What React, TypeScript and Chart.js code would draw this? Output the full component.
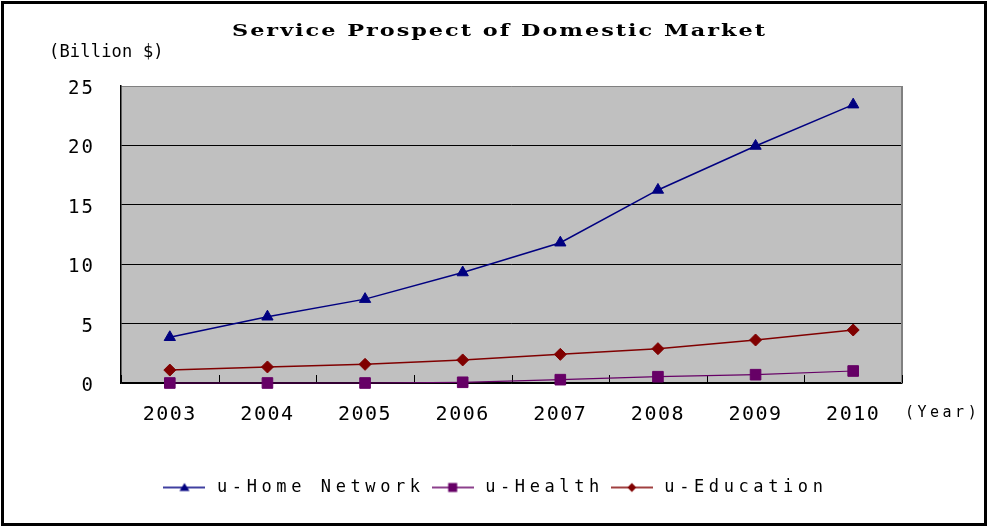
import React, { useEffect, useRef } from 'react';
import { Chart, registerables } from 'chart.js';

Chart.register(...registerables);

// ---- data ----
const years = ['2003', '2004', '2005', '2006', '2007', '2008', '2009', '2010'];
const homeNetwork = [3.85, 5.58, 7.06, 9.3, 11.81, 16.25, 19.95, 23.43];
const health = [0, 0, 0, 0.06, 0.28, 0.53, 0.7, 1.01];
const education = [1.09, 1.35, 1.57, 1.94, 2.41, 2.89, 3.62, 4.46];
const seriesNames = ['u-Home Network', 'u-Health', 'u-Education'];
const yMin = 0;
const yMax = 25;
const yStep = 5;
const chartTitle = 'Service Prospect of Domestic Market';
const yUnitLabel = '(Billion $)';
const xUnitLabel = '(Year)';

// ---- styles ----
const MONO = '"DejaVu Sans Mono", monospace';
const SERIF = '"DejaVu Serif", serif';
const colors = ['#000080', '#660066', '#800000'];
const markers = ['triangle', 'rect', 'rectRot'];

function makeIcon(color: string, marker: string) {
  const c = document.createElement('canvas');
  c.width = 42;
  c.height = 14;
  const g = c.getContext('2d') as CanvasRenderingContext2D;
  g.strokeStyle = color;
  g.lineWidth = 1.5;
  g.beginPath();
  g.moveTo(0, 7);
  g.lineTo(42, 7);
  g.stroke();
  g.fillStyle = color;
  g.beginPath();
  if (marker === 'triangle') {
    g.moveTo(21, 2.5);
    g.lineTo(26, 10.5);
    g.lineTo(16, 10.5);
  } else if (marker === 'rect') {
    g.rect(16.5, 2.5, 9, 9);
  } else {
    g.moveTo(21, 2.5);
    g.lineTo(25.5, 7);
    g.lineTo(21, 11.5);
    g.lineTo(16.5, 7);
  }
  g.closePath();
  g.fill();
  return c;
}

function wrapSpacing(obj: any, method: string, spacing: string) {
  if (!obj || obj['__ls_' + method]) return;
  const orig = obj[method];
  obj[method] = function (...args: any[]) {
    const ctx = obj.ctx as any;
    const prev = ctx.letterSpacing;
    ctx.letterSpacing = spacing;
    try {
      return orig.apply(obj, args);
    } finally {
      ctx.letterSpacing = prev;
    }
  };
  obj['__ls_' + method] = true;
}

const spacingPlugin = {
  id: 'spacingPlugin',
  beforeLayout(chart: any) {
    wrapSpacing(chart.legend, 'fit', '4.6px');
    wrapSpacing(chart.legend, 'draw', '4.6px');
    wrapSpacing(chart.scales.x, 'update', '1.5px');
    wrapSpacing(chart.scales.x, 'drawLabels', '1.5px');
    wrapSpacing(chart.scales.y, 'update', '2px');
    wrapSpacing(chart.scales.y, 'drawLabels', '2px');
  },
};

const decorPlugin = {
  id: 'decorPlugin',
  beforeDraw(chart: any) {
    const { ctx, chartArea: a, width, height } = chart;
    ctx.save();
    ctx.fillStyle = '#ffffff';
    ctx.fillRect(0, 0, width, height);
    ctx.fillStyle = '#C0C0C0';
    ctx.fillRect(a.left, a.top, a.right - a.left, a.bottom - a.top);
    ctx.restore();
  },
  beforeDatasetsDraw(chart: any) {
    const { ctx, chartArea: a } = chart;
    const xs = chart.scales.x;
    ctx.save();
    ctx.strokeStyle = '#808080';
    ctx.lineWidth = 2;
    ctx.beginPath();
    ctx.moveTo(a.right, a.top);
    ctx.lineTo(a.right, a.bottom);
    ctx.stroke();
    ctx.strokeStyle = '#000';
    ctx.lineWidth = 1;
    for (let i = 0; i <= years.length; i++) {
      const px = Math.round(xs.getPixelForValue(i - 0.5)) + 0.5;
      ctx.beginPath();
      ctx.moveTo(px, a.bottom);
      ctx.lineTo(px, a.bottom - 8);
      ctx.stroke();
    }
    ctx.restore();
  },
  afterDraw(chart: any) {
    const { ctx, width, height } = chart;
    ctx.save();
    // outer frame
    ctx.strokeStyle = '#000';
    ctx.lineWidth = 3;
    ctx.strokeRect(2.5, 2.5, width - 5, height - 5);
    // title (horizontally stretched serif, like the original)
    ctx.fillStyle = '#000';
    ctx.textAlign = 'left';
    ctx.textBaseline = 'alphabetic';
    ctx.font = `bold 17px ${SERIF}`;
    ctx.letterSpacing = '1.5px';
    const w0 = ctx.measureText(chartTitle).width;
    const sx = 535 / w0;
    ctx.save();
    ctx.translate(232, 36);
    ctx.scale(sx, 1);
    ctx.fillText(chartTitle, 0, 0);
    ctx.restore();
    // unit labels
    ctx.font = `17px ${MONO}`;
    ctx.letterSpacing = '0.2px';
    ctx.fillText(yUnitLabel, 49, 57);
    ctx.font = `15px ${MONO}`;
    ctx.letterSpacing = '3.5px';
    ctx.fillText(xUnitLabel, 905, 417);
    ctx.restore();
  },
};

export default function App() {
  const ref = useRef<HTMLCanvasElement>(null);

  useEffect(() => {
    document.body.style.margin = '0';
    const canvas = ref.current as HTMLCanvasElement;
    const icons = colors.map((c, i) => makeIcon(c, markers[i]));
    const seriesData = [homeNetwork, health, education];
    const radii = [6.5, 7.5, 6];
    const lineWidths = [1.5, 1.2, 1.5];

    const chart = new Chart(canvas, {
      type: 'line',
      data: {
        labels: years,
        datasets: seriesNames.map((name, i) => ({
          label: name,
          data: seriesData[i],
          borderColor: colors[i],
          backgroundColor: colors[i],
          borderWidth: lineWidths[i],
          pointStyle: markers[i] as any,
          pointRadius: radii[i],
          pointBorderWidth: 1,
          pointBackgroundColor: colors[i],
          pointBorderColor: colors[i],
          tension: 0,
          fill: false,
          clip: false as any,
        })),
      },
      options: {
        animation: false,
        responsive: false,
        devicePixelRatio: 1,
        layout: { padding: { top: 86, left: 0, right: 0, bottom: 21 } },
        plugins: {
          title: { display: false },
          tooltip: { enabled: false },
          legend: {
            position: 'bottom',
            align: 'center',
            labels: {
              usePointStyle: true,
              pointStyleWidth: 48,
              padding: 4,
              color: '#000',
              font: { family: MONO, size: 17 },
              generateLabels: (ch: any) =>
                ch.data.datasets.map((ds: any, i: number) => ({
                  text: ds.label,
                  fillStyle: colors[i],
                  strokeStyle: colors[i],
                  lineWidth: 0,
                  pointStyle: icons[i],
                  hidden: false,
                  datasetIndex: i,
                  fontColor: '#000',
                })),
            },
          },
        },
        scales: {
          x: {
            type: 'category',
            offset: true,
            grid: { display: false, drawTicks: false },
            border: { display: true, color: '#000', width: 1.5 },
            ticks: {
              color: '#000',
              font: { family: MONO, size: 20 },
              padding: 20,
              maxRotation: 0,
              autoSkip: false,
            },
            afterFit: (s: any) => {
              s.height = 92;
            },
          },
          y: {
            min: yMin,
            max: yMax,
            ticks: {
              stepSize: yStep,
              color: '#000',
              font: { family: MONO, size: 19 },
              padding: 26,
              labelOffset: 3,
            },
            grid: {
              color: (c: any) => (c.tick && c.tick.value === yMax ? '#808080' : '#000'),
              lineWidth: 1,
              drawTicks: false,
            },
            border: { display: true, color: '#000', width: 1.5 },
            afterFit: (s: any) => {
              s.width = 121;
            },
          },
          yRightSpace: {
            position: 'right',
            display: true,
            grid: { display: false, drawTicks: false },
            border: { display: false },
            ticks: { display: false },
            afterFit: (s: any) => {
              s.width = 86;
            },
          },
        },
      },
      plugins: [spacingPlugin, decorPlugin],
    } as any);

    return () => chart.destroy();
  }, []);

  return (
    <div style={{ width: 988, height: 527 }}>
      <canvas ref={ref} width={988} height={527} style={{ display: 'block', width: 988, height: 527 }} />
    </div>
  );
}
